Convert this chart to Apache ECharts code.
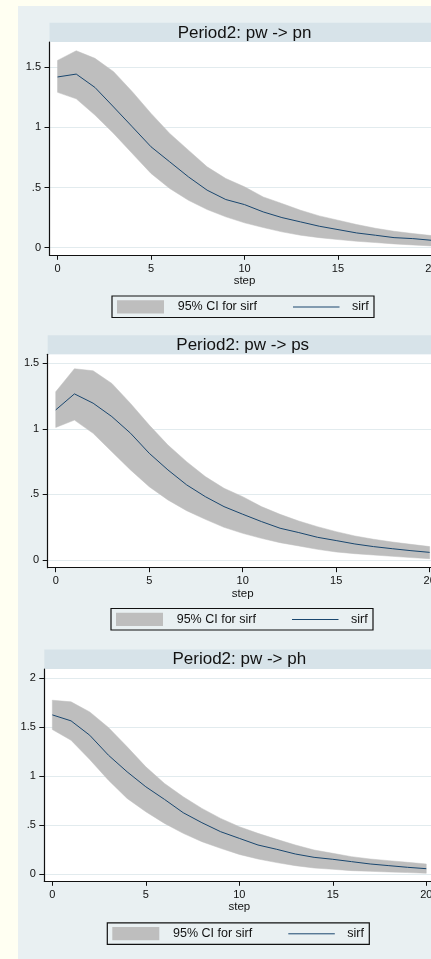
<!DOCTYPE html>
<html><head><meta charset="utf-8">
<script src="https://cdn.jsdelivr.net/npm/echarts@6/dist/echarts.min.js"></script>
<style>
html,body{margin:0;padding:0;overflow:hidden;background:#fffff2;width:431px;height:959px;}
#bg{position:absolute;left:18px;top:6px;width:440px;height:960px;background:#e9f0f2;}
#chart{position:absolute;left:0;top:0;width:450px;height:959px;}
</style></head><body><div id="bg"></div><div id="chart"></div>
<script>
// ---- data ----
const steps = [0,1,2,3,4,5,6,7,8,9,10,11,12,13,14,15,16,17,18,19,20];
const titles = ['Period2: pw -> pn','Period2: pw -> ps','Period2: pw -> ph'];
const xTicks = [0,5,10,15,20];
const yTicks1 = [0,0.5,1,1.5];
const yTicks2 = [0,0.5,1,1.5];
const yTicks3 = [0,0.5,1,1.5,2];
const legendLabels = ['95% CI for sirf','sirf'];
const xName = 'step';

const pnIrf   = [1.42,1.444,1.333,1.17,1.005,0.839,0.714,0.589,0.478,0.40,0.358,0.297,0.25,0.214,0.178,0.15,0.122,0.103,0.083,0.075,0.061];
const pnUpper = [1.558,1.638,1.575,1.464,1.297,1.117,0.95,0.811,0.672,0.575,0.506,0.422,0.367,0.311,0.264,0.228,0.192,0.161,0.136,0.117,0.10];
const pnLower = [1.292,1.238,1.103,0.95,0.783,0.617,0.492,0.394,0.317,0.256,0.206,0.167,0.131,0.103,0.083,0.067,0.053,0.042,0.031,0.022,0.014];

const psIrf   = [1.145,1.267,1.196,1.094,0.967,0.814,0.687,0.573,0.483,0.407,0.349,0.293,0.242,0.209,0.173,0.148,0.122,0.102,0.086,0.071,0.058];
const psUpper = [1.283,1.459,1.443,1.347,1.194,1.029,0.877,0.75,0.636,0.547,0.483,0.407,0.348,0.297,0.254,0.216,0.183,0.158,0.137,0.119,0.102];
const psLower = [1.011,1.067,0.966,0.826,0.687,0.559,0.458,0.376,0.31,0.249,0.203,0.165,0.132,0.107,0.081,0.061,0.048,0.038,0.028,0.018,0.01];

const phIrf   = [1.626,1.565,1.418,1.214,1.044,0.891,0.762,0.626,0.524,0.432,0.364,0.296,0.252,0.204,0.17,0.15,0.126,0.102,0.085,0.068,0.054];
const phUpper = [1.776,1.759,1.656,1.497,1.30,1.095,0.925,0.789,0.67,0.568,0.483,0.415,0.354,0.296,0.245,0.211,0.177,0.153,0.136,0.119,0.102];
const phLower = [1.476,1.367,1.17,0.959,0.772,0.636,0.517,0.415,0.33,0.262,0.20,0.153,0.116,0.085,0.061,0.048,0.034,0.027,0.02,0.014,0.007];

// ---- layout (positions/styles) ----
const panels = [
  {irf: pnIrf, up: pnUpper, lo: pnLower, yTicks: yTicks1, left:49.5, top:42,    height:213.3, ymin:-0.064, ymax:1.711, bandY:22.7, legX:112,   legY:296},
  {irf: psIrf, up: psUpper, lo: psLower, yTicks: yTicks2, left:47.7, top:354.3, height:213.4, ymin:-0.059, ymax:1.569, bandY:335.2, legX:111,   legY:608.5},
  {irf: phIrf, up: phUpper, lo: phLower, yTicks: yTicks3, left:44.3, top:669,   height:212.3, ymin:-0.075, ymax:2.095, bandY:649.5, legX:107.3, legY:922.8}
];
const FONT = '"Liberation Sans", Arial, sans-serif';
const GW = 390;
const CI_COLOR = '#bebebe';
const LINE_COLOR = '#1a476f';

const grids = [], xAxes = [], yAxes = [], series = [], graphics = [];
const fmtY = v => (v === 0 ? '0' : String(v).replace(/^0\./, '.'));

function bandRender(params, api) {
  if (params.dataIndex !== 0) return null;
  const n = params.dataInsideLength;
  const top = [], bottom = [];
  for (let j = 0; j < n; j++) {
    const x = api.value(0, j);
    top.push(api.coord([x, api.value(2, j)]));
    bottom.push(api.coord([x, api.value(1, j)]));
  }
  return {type: 'polygon', shape: {points: top.concat(bottom.reverse())},
    style: {fill: CI_COLOR, stroke: CI_COLOR, lineWidth: 0.5}};
}

panels.forEach((p, i) => {
  grids.push({left: p.left, top: p.top, width: GW, height: p.height, show: true,
    backgroundColor: '#ffffff', borderWidth: 0, containLabel: false});
  xAxes.push({type: 'value', gridIndex: i, min: -0.43, max: 20.43,
    name: xName, nameLocation: 'middle', nameGap: 19,
    nameTextStyle: {fontFamily: FONT, fontSize: 11.5, color: '#111'},
    axisLine: {onZero: false, lineStyle: {color: '#111', width: 1.2}},
    axisTick: {show: true, length: 4.5, customValues: xTicks, lineStyle: {color: '#111', width: 1}},
    axisLabel: {customValues: xTicks, margin: 8, fontFamily: FONT, fontSize: 11, color: '#111'},
    splitLine: {show: false}});
  yAxes.push({type: 'value', gridIndex: i, min: p.ymin, max: p.ymax,
    axisLine: {onZero: false, show: true, lineStyle: {color: '#111', width: 1.2}},
    axisTick: {show: true, length: 5, customValues: p.yTicks, lineStyle: {color: '#111', width: 1}},
    axisLabel: {customValues: p.yTicks, margin: 8.5, formatter: fmtY, fontFamily: FONT, fontSize: 11, color: '#111'},
    splitLine: {show: true, lineStyle: {color: '#e2ebee', width: 1}}});
  series.push({type: 'custom', xAxisIndex: i, yAxisIndex: i, renderItem: bandRender,
    data: steps.map((s, k) => [s, p.lo[k], p.up[k]]),
    encode: {x: 0, y: [1, 2]}, silent: true, z: 1});
  series.push({type: 'line', xAxisIndex: i, yAxisIndex: i, data: steps.map((s, k) => [s, p.irf[k]]),
    symbol: 'none', lineStyle: {color: LINE_COLOR, width: 1}, silent: true, z: 3});

  // title band
  graphics.push({type: 'rect', silent: true, shape: {x: p.left, y: p.bandY, width: 420, height: p.top - p.bandY},
    style: {fill: '#d7e3e9'}});
  graphics.push({type: 'text', silent: true, x: p.left + GW / 2, y: (p.bandY + p.top) / 2 + 0.5,
    style: {text: titles[i], align: 'center', verticalAlign: 'middle', fontFamily: FONT, fontSize: 17, fill: '#111'}});
  // legend
  graphics.push({type: 'group', x: p.legX, y: p.legY, silent: true, children: [
    {type: 'rect', shape: {x: 0, y: 0, width: 262, height: 21.5}, style: {fill: 'none', stroke: '#111', lineWidth: 1.2}},
    {type: 'rect', shape: {x: 5, y: 4.2, width: 47, height: 13.2}, style: {fill: CI_COLOR}},
    {type: 'text', x: 65.7, y: 11, style: {text: legendLabels[0], verticalAlign: 'middle', fontFamily: FONT, fontSize: 12.5, fill: '#111'}},
    {type: 'line', shape: {x1: 181, y1: 11, x2: 227.5, y2: 11}, style: {stroke: LINE_COLOR, lineWidth: 1}},
    {type: 'text', x: 240, y: 11, style: {text: legendLabels[1], verticalAlign: 'middle', fontFamily: FONT, fontSize: 12.5, fill: '#111'}}
  ]});
});

const chart = echarts.init(document.getElementById('chart'), null, {renderer: 'canvas'});
chart.setOption({
  animation: false,
  backgroundColor: 'transparent',
  grid: grids, xAxis: xAxes, yAxis: yAxes, series: series,
  graphic: {elements: graphics}
});
</script>
</body></html>
